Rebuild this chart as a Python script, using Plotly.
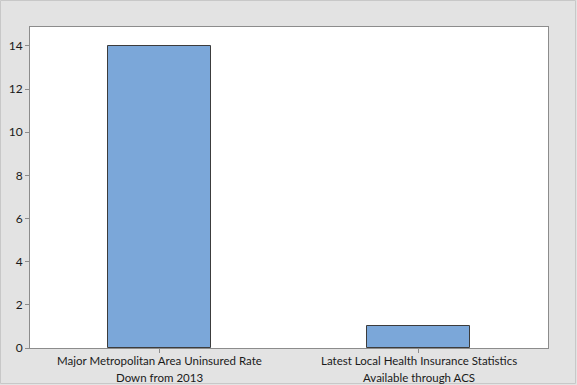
import plotly.graph_objects as go

cat_line1 = ["Major Metropolitan Area Uninsured Rate",
             "Latest Local Health Insurance Statistics"]
cat_line2 = ["Down from 2013", "Available through ACS"]
values = [14, 1]
y_ticks = [0, 2, 4, 6, 8, 10, 12, 14]

W, H = 577, 385
L, R, T, B = 30, 548, 27, 348

fig = go.Figure(go.Bar(
    x=[0, 1], y=values, width=0.4,
    marker=dict(color="#7BA7D9", line=dict(color="#3C3C3C", width=1)),
))

def px2paper_x(px):
    return (px - L) / (R - L)

def px2paper_y(py):
    return (B - py) / (B - T)

fig.add_shape(type="rect", xref="paper", yref="paper",
              x0=px2paper_x(0.5), x1=px2paper_x(575.5),
              y0=px2paper_y(383.5), y1=px2paper_y(0.5),
              line=dict(color="#C8C8C8", width=1), layer="below")

for i, (a, b) in enumerate(zip(cat_line1, cat_line2)):
    fig.add_annotation(x=i, xref="x", y=px2paper_y(360.5), yref="paper",
                       text=a, showarrow=False, yanchor="middle",
                       font=dict(size=11.5))
    fig.add_annotation(x=i, xref="x", y=px2paper_y(377.5), yref="paper",
                       text=b, showarrow=False, yanchor="middle",
                       font=dict(size=11.5))

fig.update_layout(
    width=W, height=H,
    margin=dict(l=L, r=W - R, t=T, b=H - B, pad=0, autoexpand=False),
    paper_bgcolor="#E3E3E3", plot_bgcolor="white",
    font=dict(family="Lato, Open Sans, sans-serif", size=12, color="#1A1A1A"),
    showlegend=False,
    bargap=0,
)
fig.update_xaxes(
    range=[-0.5, 1.5], tickmode="array", tickvals=[0, 1], ticktext=["", ""],
    showgrid=False, zeroline=False, showline=True, mirror=True,
    linecolor="#8C8C8C", linewidth=1, ticks="outside", ticklen=4,
    tickcolor="#8C8C8C", automargin=False,
)
fig.update_yaxes(
    range=[0, 14.88], tickmode="array", tickvals=y_ticks,
    showgrid=False, zeroline=False, showline=True, mirror=True,
    linecolor="#8C8C8C", linewidth=1, ticks="outside", ticklen=4,
    tickcolor="#8C8C8C", tickfont=dict(size=12), automargin=False,
)
fig.write_html("out.html")
